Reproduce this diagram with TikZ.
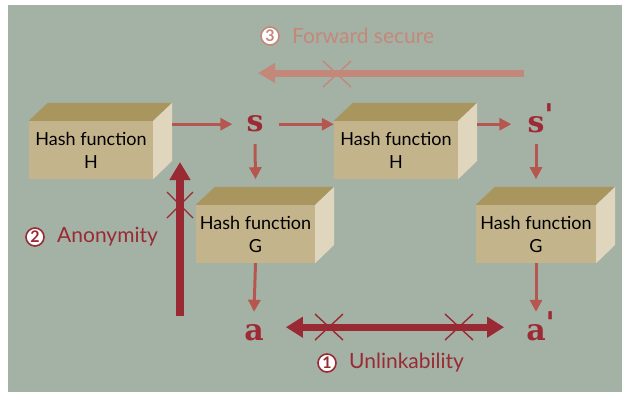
\documentclass[tikz,border=0pt]{standalone}
\usepackage{fontspec}
\setmainfont{Lato}
\newfontfamily\letterfont{DejaVu Serif}
\usetikzlibrary{arrows.meta,calc}
\definecolor{bg}{HTML}{A4B2A5}
\definecolor{boxfront}{HTML}{C4B48B}
\definecolor{boxtop}{HTML}{A9955E}
\definecolor{boxside}{HTML}{DFD6BD}
\definecolor{smallarrow}{HTML}{B5574E}
\definecolor{fwd}{HTML}{C4887A}
\definecolor{darkred}{HTML}{992A33}
\definecolor{lettercol}{HTML}{9E2A35}
\tikzset{
  front/.style={fill=boxfront, draw=none, inner sep=0pt, minimum height=58pt, align=center,
    text=black, font=\fontsize{18}{23}\selectfont},
  boxtopf/.style={fill=boxtop},
  boxsidef/.style={fill=boxside},
  letter/.style={inner sep=0pt, text=lettercol, font=\letterfont\bfseries\fontsize{30}{30}\selectfont, anchor=base},
  smallarr/.style={draw=smallarrow, line width=3pt, -{Triangle[length=12pt,width=12pt]}},
  bigarr/.style={line width=7pt},
  xmark/.style={line width=1.4pt},
  circnum/.style={circle, fill=white, line width=1.6pt, inner sep=0pt, minimum size=18pt,
    font=\bfseries\fontsize{16}{16}\selectfont},
  lbl/.style={inner sep=0pt, anchor=west, font=\fontsize{21}{21}\selectfont}
}
\newcommand{\cuboid}[2]{%
  \fill[boxtopf] (#1.north west) -- ++(19,-18) -- ++(#2,0) -- (#1.north east) -- cycle;
  \fill[boxsidef] (#1.north east) -- ++(19,-18) -- ++(0,58) -- (#1.south east) -- cycle;
}
\begin{document}
\begin{tikzpicture}[x=1pt,y=-1pt]
\useasboundingbox (0,0) rectangle (622,392);
\fill[white] (0,0) rectangle (622,392);
\fill[bg] (8,5) rectangle (622,392);

% boxes
\node[front, minimum width=124pt] (H1) at (91,150) {Hash function\\H};
\cuboid{H1}{124}
\node[front, minimum width=124pt] (H2) at (396,150) {Hash function\\H};
\cuboid{H2}{124}
\node[front, minimum width=119pt] (G1) at (255.5,234) {Hash function\\G};
\cuboid{G1}{119}
\node[front, minimum width=120pt] (G2) at (536,234) {Hash function\\G};
\cuboid{G2}{120}

% letters
\node[letter] (s) at (255,131) {s};
\node[letter] (s2) at (536,132) {s\rlap{\raisebox{7pt}{\symbol{39}}}};
\node[letter] (a) at (254,340) {a};
\node[letter] (a2) at (536,340) {a\rlap{\raisebox{7pt}{\symbol{39}}}};

% small arrows
\draw[smallarr] ($(H1.east |- s.center)+(19,1)$) -- ($(s.west |- s.center)+(-14,1)$);
\draw[smallarr] ($(s.east |- s.center)+(15,1)$) -- ($(H2.west |- s.center)+(0,1)$);
\draw[smallarr] ($(H2.east |- s.center)+(19,1)$) -- ($(s2.west |- s.center)+(-16,1)$);
\draw[smallarr] ($(s.center)+(0,21)$) -- ($(G1.north |- s.center)+(0,56)$);
\draw[smallarr] ($(s2 |- s.center)+(0,21)$) -- ($(G2.north |- s.center)+(0,56)$);
\draw[smallarr] (G1.south) -- ($(a.north)+(0,-12)$);
\draw[smallarr] (G2.south) -- ($(a2 |- a.north)+(0,-12)$);

% forward secure
\coordinate (fsA) at (524,73);
\coordinate (fsB) at (258,73);
\draw[bigarr, draw=fwd, -{Triangle[length=17pt,width=19pt]}] (fsA) -- (fsB);
\coordinate (fsX) at (337,74);
\draw[xmark, draw=fwd] (fsX) +(-14,-13) -- +(14,13) (fsX) +(-14,13) -- +(14,-13);
\node[circnum, draw=fwd, text=fwd] (n3) at (270,36) {3};
\node[lbl, text=fwd] (fs) at (292,36) {Forward secure};

% anonymity
\coordinate (anA) at (180,316);
\coordinate (anB) at (180,162);
\draw[bigarr, line width=8pt, draw=darkred, -{Triangle[length=18pt,width=20pt]}] (anA) -- (anB);
\coordinate (anX) at (180,205);
\draw[xmark, draw=darkred] (anX) +(-13,-13) -- +(13,13) (anX) +(-13,13) -- +(13,-13);
\node[circnum, draw=darkred, text=darkred] (n2) at (35,237) {2};
\node[lbl, text=darkred] (an) at (57,237) {Anonymity};

% unlinkability
\draw[bigarr, draw=darkred, {Triangle[length=17pt,width=20pt]}-{Triangle[length=17pt,width=20pt]}]
  ($(a.east |- a.center)+(22,-5)$) -- ($(a2.west |- a.center)+(-22,-5)$);
\coordinate (unX1) at (329,327);
\coordinate (unX2) at (459,327);
\draw[xmark, draw=darkred] (unX1) +(-14,-13) -- +(14,13) (unX1) +(-14,13) -- +(14,-13);
\draw[xmark, draw=darkred] (unX2) +(-14,-13) -- +(14,13) (unX2) +(-14,13) -- +(14,-13);
\node[circnum, draw=darkred, text=darkred] (n1) at (327,363) {1};
\node[lbl, text=darkred] (un) at (349,363) {Unlinkability};
\end{tikzpicture}
\end{document}
